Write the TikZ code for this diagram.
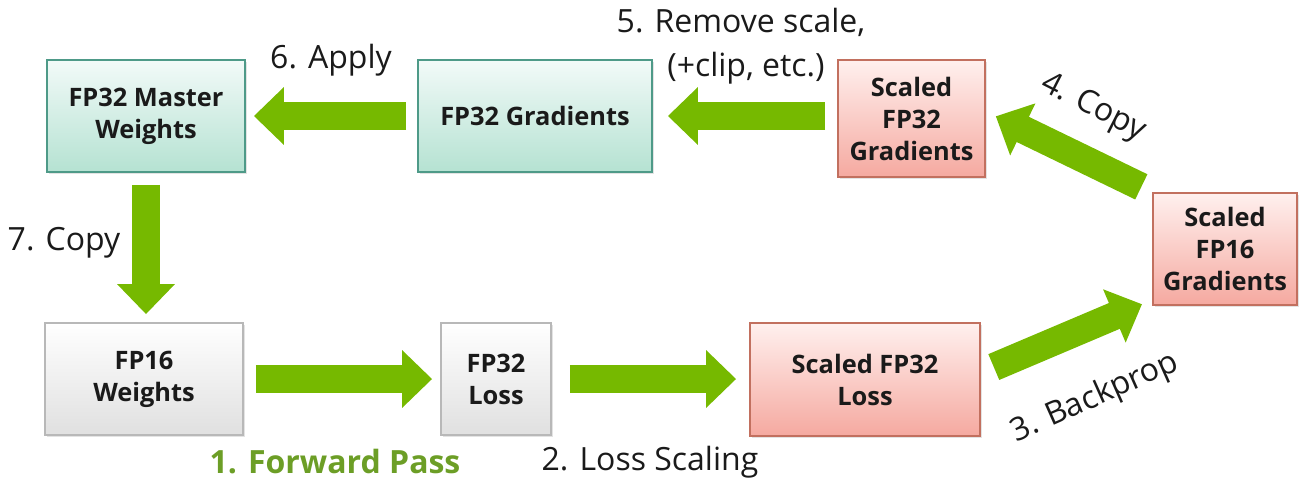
\documentclass[tikz,border=0pt]{standalone}
\usepackage{fontspec}
\setmainfont{Open Sans}
\usetikzlibrary{arrows.meta,shadows}
\definecolor{nvgreen}{HTML}{76B900}
\definecolor{lblgreen}{RGB}{108,158,38}
\definecolor{tealtop}{HTML}{F2FAF8}
\definecolor{tealbot}{HTML}{B5E2D2}
\definecolor{tealline}{HTML}{4E9A88}
\definecolor{pinktop}{HTML}{FFF0EE}
\definecolor{pinkbot}{HTML}{F5A9A0}
\definecolor{pinkline}{HTML}{C2705F}
\definecolor{greytop}{HTML}{FFFFFF}
\definecolor{greybot}{HTML}{E0E0E0}
\definecolor{greyline}{HTML}{B8B8B8}
\definecolor{txt}{HTML}{1A1A1A}
\begin{document}
\begin{tikzpicture}[x=0.5pt,y=-0.5pt,
  box/.style={draw, line width=0.9pt, inner sep=0pt, align=center,
    font=\fontsize{12.7}{16}\selectfont\bfseries, text=txt,
    drop shadow={opacity=0.22, shadow xshift=0.8pt, shadow yshift=-0.8pt}},
  tealbox/.style={box, draw=tealline, top color=tealtop, bottom color=tealbot},
  pinkbox/.style={box, draw=pinkline, top color=pinktop, bottom color=pinkbot},
  greybox/.style={box, draw=greyline, top color=greytop, bottom color=greybot},
  fat/.style={draw=nvgreen, line width=14pt, line cap=butt,
    -{Triangle[length=15pt,width=28pt]}},
  lbl/.style={inner sep=0pt, text=txt, font=\fontsize{16}{19}\selectfont}
]
\useasboundingbox (0,0) rectangle (1300,479);

% boxes
\node[tealbox, minimum width=99pt, minimum height=56pt] (mw) at (146,116) {FP32 Master\\Weights};
\node[tealbox, minimum width=117pt, minimum height=56pt] (gr) at (535,116) {FP32 Gradients};
\node[pinkbox, minimum width=73.5pt, minimum height=58.5pt] (sfg) at (911.5,118.5) {Scaled\\FP32\\Gradients};
\node[pinkbox, minimum width=72pt, minimum height=56pt] (fp16g) at (1225,249) {Scaled\\FP16\\Gradients};
\node[greybox, minimum width=99pt, minimum height=56pt] (fwt) at (144,379) {FP16\\Weights};
\node[greybox, minimum width=55pt, minimum height=56pt] (loss) at (496,379) {FP32\\Loss};
\node[pinkbox, minimum width=115pt, minimum height=56.5pt] (sfl) at (865,379.5) {Scaled FP32\\Loss};

% arrows
\draw[fat, shorten <=5.5pt, shorten >=4pt] (gr.west) -- (mw.east);
\draw[fat, shorten <=6pt, shorten >=7.5pt] (sfg.west |- gr.east) -- (gr.east);
\draw[fat, shorten <=6pt, shorten >=4pt] (mw.south) -- (mw.south |- fwt.north);
\draw[fat, shorten <=6pt, shorten >=4pt] (fwt.east) -- (loss.west);
\draw[fat, shorten <=9pt, shorten >=6.5pt] (loss.east) -- (sfl.west |- loss.east);
\draw[fat, shorten <=7pt, shorten >=5.5pt] ([yshift=3.5pt]sfl.east) -- ([yshift=3pt]fp16g.south west);
\draw[fat, shorten <=6pt, shorten >=5.5pt] (fp16g.north west) -- ([yshift=3.5pt]sfg.east);

% labels
\node[lbl] (l6) at (331,60) {6. Apply};
\node[lbl] (l5a) at (741,22) {5. Remove scale,};
\node[lbl] (l5b) at (746,68) {(+clip, etc.)};
\node[lbl, rotate=-27] (l4) at (1093,108) {4. Copy};
\node[lbl] (l7) at (64,243) {7. Copy};
\node[lbl, text=lblgreen, font=\fontsize{16}{19}\selectfont\bfseries] (l1) at (335,462) {1. Forward Pass};
\node[lbl] (l2) at (650,462) {2. Loss Scaling};
\node[lbl, rotate=24] (l3) at (1095,398) {3. Backprop};
\end{tikzpicture}
\end{document}
